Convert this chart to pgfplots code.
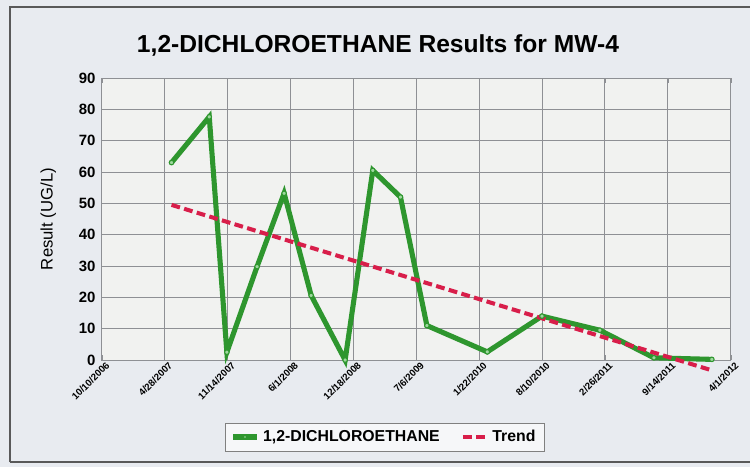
\documentclass[border=0pt]{standalone}
\usepackage{pgfplots}
\pgfplotsset{compat=1.18}
\usepackage{fontspec}
\setmainfont{Liberation Sans}
\definecolor{bgc}{HTML}{E8EBF0}
\definecolor{plotbg}{HTML}{F1F2F0}
\definecolor{gline}{HTML}{2E962E}
\definecolor{gmark}{HTML}{9ED89E}
\definecolor{rline}{HTML}{D81E4A}
\definecolor{gridc}{HTML}{8E9094}
\begin{document}
\begin{tikzpicture}
\path[use as bounding box, fill=bgc] (0,0) rectangle (15cm,9.34cm);
\draw[gray!70!black, line width=0.6pt] (0.2cm,0.1cm) -- (0.2cm,9.2cm) -- (15cm,9.2cm);
\draw[gray!70!black, line width=0.6pt] (0.2cm,0.1cm) -- (15cm,0.1cm);
\node[font=\bfseries\fontsize{14}{16}\selectfont] at (7.56cm,8.44cm) {1,2-DICHLOROETHANE Results for MW-4};
\begin{axis}[
  at={(2.034cm,2.14cm)}, anchor=south west,
  width=12.58cm, height=5.64cm, scale only axis,
  xmin=0, xmax=10, ymin=0, ymax=90,
  axis background/.style={fill=plotbg},
  axis line style={gridc},
  grid=major, major grid style={gridc, line width=0.5pt},
  xtick={0,1,2,3,4,5,6,7,8,9,10},
  xticklabels={10/10/2006,4/28/2007,11/14/2007,6/1/2008,12/18/2008,7/6/2009,1/22/2010,8/10/2010,2/26/2011,9/14/2011,4/1/2012},
  xticklabel style={rotate=45, anchor=east, font=\bfseries\fontsize{5.5}{6}\selectfont, inner sep=1pt, yshift=-4pt, xshift=2pt},
  ytick={0,10,...,90},
  yticklabel style={font=\bfseries\fontsize{8.5}{10}\selectfont},
  /pgf/number format/assume math mode=true,
  tick style={gridc},
  major tick length=3pt,
  ylabel={Result (UG/L)},
  ylabel style={at={(axis description cs:-0.085,0.5)}, anchor=center, font=\fontsize{9.5}{11}\selectfont},
  clip=false,
  legend columns=2,
  legend style={at={(axis description cs:0.45,-0.273)}, anchor=center, draw=gray, fill=bgc!40!white, font=\bfseries\fontsize{9}{10}\selectfont, /tikz/every even column/.append style={column sep=10pt}},
  legend image post style={scale=0.8},
]
\addplot[color=gline, line width=2.9pt, mark=*, mark size=1.3pt, mark options={fill=gmark, draw=gline, line width=0.6pt}] coordinates {
(1.11,63) (1.71,77.6) (1.99,2.5) (2.47,29.8) (2.90,53.2) (3.33,20.6) (3.87,0)
(4.31,60.5) (4.75,52) (5.17,11) (6.13,2.6) (7.00,14) (7.92,9.5) (8.78,0.7) (9.70,0.2)
};
\addlegendentry{1,2-DICHLOROETHANE}
\addplot[color=rline, line width=2.3pt, dash pattern=on 5pt off 2.5pt] coordinates {
(1.11,49.5) (9.70,-3.3)
};
\addlegendentry{Trend}
\end{axis}
\end{tikzpicture}
\end{document}
